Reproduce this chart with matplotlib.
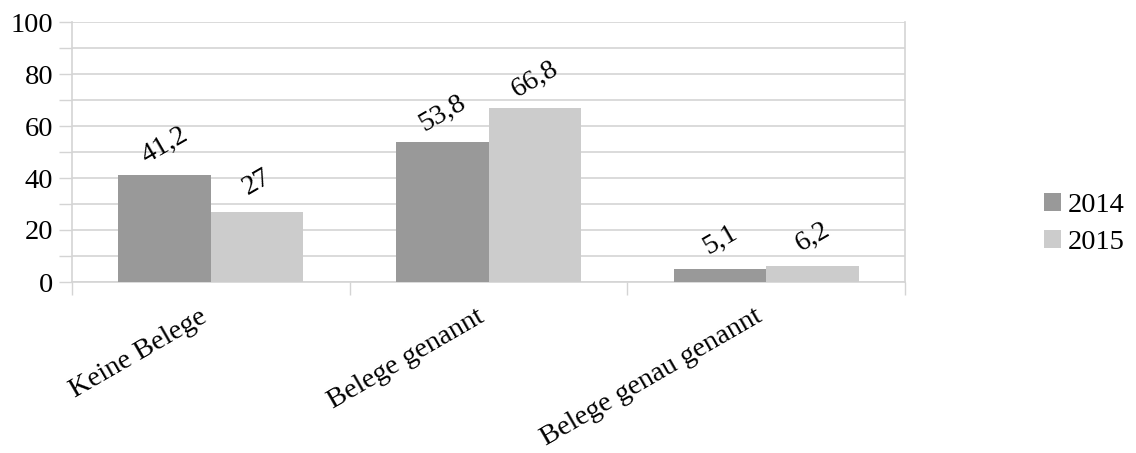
import matplotlib
matplotlib.use("Agg")
import matplotlib.pyplot as plt
import numpy as np

categories = ["Keine Belege", "Belege genannt", "Belege genau genannt"]
series_names = ["2014", "2015"]
values_2014 = [41.2, 53.8, 5.1]
values_2015 = [27, 66.8, 6.2]
value_labels_2014 = ["41,2", "53,8", "5,1"]
value_labels_2015 = ["27", "66,8", "6,2"]
y_ticks = [0, 20, 40, 60, 80, 100]

plt.rcParams['font.family'] = ['Liberation Serif', 'DejaVu Serif']
FS = 20.5
GRID = "#d4d4d4"
C14 = "#999999"
C15 = "#cccccc"

fig = plt.figure(figsize=(11.36, 4.53), dpi=100)
ax = fig.add_axes([72/1136, 1-282/453, (905-72)/1136, (282-22)/453])

x = np.arange(len(categories))
w = 1/3
b1 = ax.bar(x - w/2, values_2014, width=w, color=C14, label=series_names[0], zorder=3)
b2 = ax.bar(x + w/2, values_2015, width=w, color=C15, label=series_names[1], zorder=3)

for bars, labs in ((b1, value_labels_2014), (b2, value_labels_2015)):
    for rect, lab in zip(bars, labs):
        ax.annotate(lab, (rect.get_x() + rect.get_width()/2, rect.get_height()),
                    xytext=(0, 21), textcoords="offset points",
                    ha="center", va="center", rotation=30, fontsize=FS, zorder=4)

ax.set_xlim(-0.5, len(categories) - 0.5)
ax.set_ylim(0, 100)

ax.set_yticks(y_ticks)
ax.set_yticks([10, 30, 50, 70, 90], minor=True)
ax.set_yticklabels([str(t) for t in y_ticks], fontsize=FS)
ax.tick_params(axis="y", which="both", length=9.4, width=1, color=GRID, pad=4)
ax.yaxis.grid(True, which="both", color=GRID, linewidth=1.2, zorder=0)

ax.set_xticks(x)
ax.set_xticklabels(categories, fontsize=FS, rotation=30, ha="right", va="top")
ax.set_xticks(np.arange(len(categories) + 1) - 0.5, minor=True)
ax.tick_params(axis="x", which="major", length=0, pad=16)
ax.tick_params(axis="x", which="minor", length=9.4, width=1, color=GRID)

for s in ("left", "right", "bottom", "top"):
    ax.spines[s].set_color(GRID)
    ax.spines[s].set_linewidth(1.2)
ax.spines["top"].set_visible(False)
ax.set_axisbelow(True)

leg = fig.legend(handles=[b1, b2], labels=series_names, loc="center left",
                 bbox_to_anchor=(1044/1136, 1-224/453), frameon=False,
                 borderpad=0, borderaxespad=0,
                 fontsize=FS, handlelength=0.6, handleheight=0.6,
                 handletextpad=0.25, labelspacing=0.4)

fig.savefig("out.png", dpi=100)
